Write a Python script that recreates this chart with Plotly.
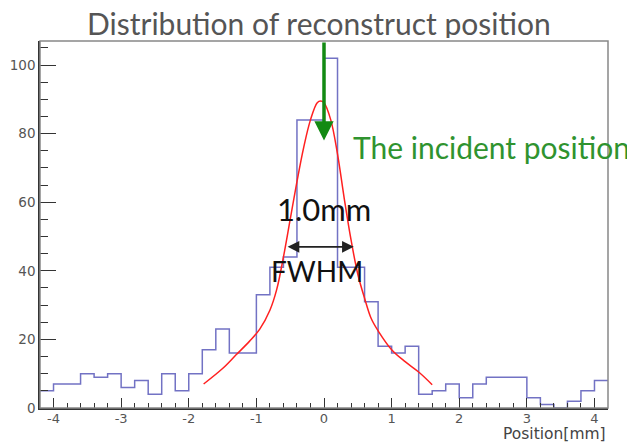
import numpy as np
import plotly.graph_objects as go

# Histogram: bins of 0.2 mm starting at -4.2 mm
bin_start = -4.2
bin_width = 0.2
counts = [5, 7, 7, 10, 9, 10, 6, 8, 4, 10, 5, 10, 17, 23, 16, 16, 33, 41, 44,
          84, 84, 102, 41, 41, 31, 18, 16, 18, 4, 5, 7, 3, 7, 9, 9, 9, 3, 1, 0, 2, 5, 8]

# Fit curve
fit_x = [-1.78, -1.5, -1.3, -1.1, -0.95, -0.8, -0.7, -0.6, -0.5, -0.4, -0.3, -0.2,
         -0.1, -0.05, 0.0, 0.1, 0.2, 0.3, 0.4, 0.5, 0.6, 0.7, 0.8, 1.0, 1.2, 1.4, 1.6]
fit_y = [7, 11.5, 15.5, 19.5, 23, 28.5, 34.5, 44, 55, 66, 76, 84,
         89, 89.5, 89, 84, 74, 61, 49, 39, 32, 26, 22.5, 17, 13.5, 10.5, 6.8]

x_ticks = [-4, -3, -2, -1, 0, 1, 2, 3, 4]
y_ticks = [0, 20, 40, 60, 80, 100]

edges = [bin_start + i * bin_width for i in range(len(counts) + 1)]
step_y = counts + [counts[-1]]

fig = go.Figure()
fig.add_trace(go.Scatter(x=edges, y=step_y, mode="lines", line_shape="hv",
                         line=dict(color="#7272c4", width=1.5), hoverinfo="skip"))
fig.add_trace(go.Scatter(x=fit_x, y=fit_y, mode="lines", line_shape="spline",
                         line=dict(color="#ff2020", width=1.5), hoverinfo="skip"))

ann_font = "Lato"
tick_font = "DejaVu Sans"
fig.add_annotation(x=0, y=78, ax=0, ay=107, xref="x", yref="y", axref="x", ayref="y",
                   showarrow=True, arrowhead=2, arrowsize=1.1, arrowwidth=3.5,
                   arrowcolor="#138a13", text="")
fig.add_annotation(x=0.44, y=47, ax=-0.56, ay=47, xref="x", yref="y", axref="x", ayref="y",
                   showarrow=True, arrowhead=2, startarrowhead=2, arrowside="end+start",
                   arrowsize=1.3, startarrowsize=1.3, arrowwidth=1.8, arrowcolor="#222222", text="")
fig.add_annotation(x=0.40, y=76, xref="x", yref="y", xanchor="left", yanchor="middle",
                   showarrow=False, text="The incident position",
                   font=dict(family=ann_font, size=30, color="#2f932f"))
fig.add_annotation(x=0.0, y=58, xref="x", yref="y", xanchor="center", yanchor="middle",
                   showarrow=False, text="1.0mm",
                   font=dict(family=ann_font, size=31, color="#111111"))
fig.add_annotation(x=-0.1, y=40, xref="x", yref="y", xanchor="center", yanchor="middle",
                   showarrow=False, text="FWHM",
                   font=dict(family=ann_font, size=28, color="#111111"))
fig.add_annotation(x=1, y=-0.07, xref="paper", yref="paper", xanchor="right", yanchor="middle",
                   showarrow=False, text="Position[mm]",
                   font=dict(family=tick_font, size=15.5, color="#444444"))
fig.add_annotation(x=(319 - 40) / 568, y=1.0, xref="paper", yref="paper", yshift=18,
                   xanchor="center", yanchor="middle", showarrow=False, height=30,
                   text="Distribution of reconstruct position",
                   font=dict(family=ann_font, size=30, color="#555555"))

# frame
fig.add_shape(type="rect", xref="paper", yref="paper", x0=0, x1=1, y0=0, y1=1,
              line=dict(color="#888888", width=1.5), layer="above")

fig.update_layout(
    width=635, height=442,
    margin=dict(l=32, r=35, t=33, b=42),
    paper_bgcolor="white", plot_bgcolor="white",
    showlegend=False,
    font=dict(family=tick_font, size=13, color="#555555"),
)
fig.update_xaxes(range=[-4.2, 4.2], tickvals=x_ticks, ticktext=[str(v) for v in x_ticks],
                 automargin=False, ticklabelstandoff=-2,
                 ticks="inside", ticklen=10, tickwidth=1.3, tickcolor="#333333",
                 showgrid=False, zeroline=False, showline=True, linecolor="#333333", linewidth=1.5,
                 minor=dict(ticks="inside", ticklen=5, dtick=0.2, tick0=0, tickcolor="#333333", tickwidth=1.1),
                 tickfont=dict(family=tick_font, size=13, color="#555555"))
fig.update_yaxes(range=[0, 107], tickvals=y_ticks, ticktext=[str(v) for v in y_ticks],
                 automargin=False,
                 ticks="inside", ticklen=16, tickwidth=1.3, tickcolor="#333333",
                 showgrid=False, zeroline=False, showline=True, linecolor="#333333", linewidth=1.5,
                 minor=dict(ticks="inside", ticklen=8, dtick=5, tick0=0, tickcolor="#333333", tickwidth=1.1),
                 tickfont=dict(family=tick_font, size=13.5, color="#555555"))

fig.write_html("out.html")
